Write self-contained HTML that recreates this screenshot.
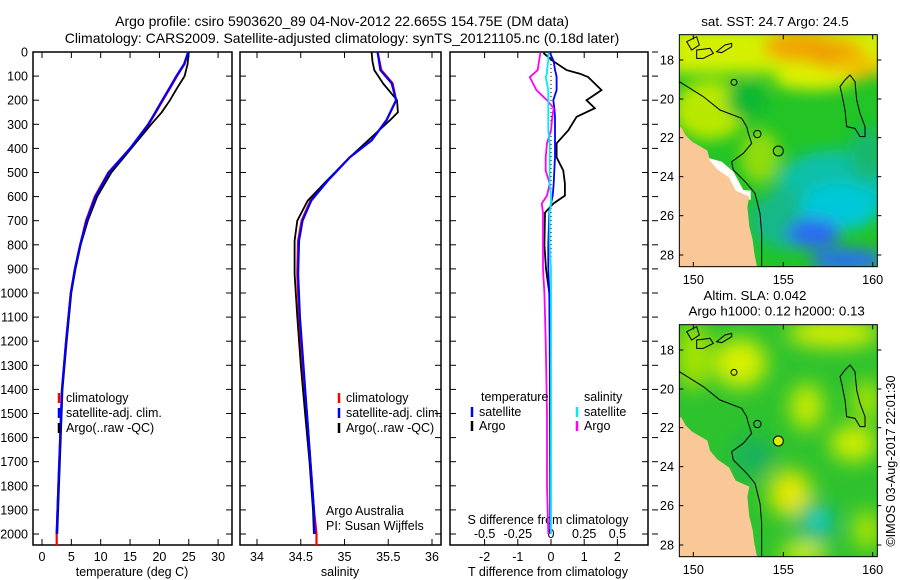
<!DOCTYPE html>
<html><head><meta charset="utf-8">
<style>
html,body{margin:0;padding:0;background:#fff;}
svg{display:block;font-family:"Liberation Sans",sans-serif;}
text{font-size:12.5px;fill:#000;}
</style></head>
<body>
<svg id="chart" width="900" height="580" viewBox="0 0 900 580" xmlns="http://www.w3.org/2000/svg">
<rect width="900" height="580" fill="#fff"/>
<text x="342" y="26" text-anchor="middle" style="font-size:14px">Argo profile: csiro 5903620_89 04-Nov-2012 22.665S 154.75E (DM data)</text>
<text x="342" y="43" text-anchor="middle" style="font-size:14px">Climatology: CARS2009. Satellite-adjusted climatology: synTS_20121105.nc (0.18d later)</text>
<g id="plots"></g>

<!-- Map 1: SST -->
<svg x="660" y="0" width="240" height="290" viewBox="0 0 720 870">
<defs>
<filter id="bl1" x="-50%" y="-50%" width="200%" height="200%"><feGaussianBlur stdDeviation="22"/></filter>
<filter id="bl2" x="-50%" y="-50%" width="200%" height="200%"><feGaussianBlur stdDeviation="30"/></filter>
<clipPath id="mc"><rect x="58" y="104" width="594" height="696"/></clipPath>
</defs>
<text x="345" y="78" text-anchor="middle" style="font-size:40px">sat. SST: 24.7 Argo: 24.5</text>
<g clip-path="url(#mc)">
<rect x="58" y="104" width="594" height="696" fill="#22c426"/>
<g filter="url(#bl1)">
<rect x="30" y="80" width="660" height="140" fill="#d4f000"/>
<ellipse cx="420" cy="140" rx="110" ry="45" fill="#f2a400"/>
<ellipse cx="520" cy="160" rx="90" ry="45" fill="#f0a000"/>
<ellipse cx="590" cy="200" rx="70" ry="40" fill="#f0c000"/>
<ellipse cx="460" cy="240" rx="120" ry="30" fill="#e0f000"/>
<ellipse cx="150" cy="330" rx="110" ry="90" fill="#b8e800"/>
<ellipse cx="300" cy="470" rx="60" ry="80" fill="#90dc10"/>
<ellipse cx="260" cy="300" rx="60" ry="60" fill="#10b830"/>
<ellipse cx="520" cy="560" rx="170" ry="110" fill="#10c0a8"/>
<ellipse cx="380" cy="660" rx="110" ry="90" fill="#14b888"/>
<ellipse cx="540" cy="620" rx="120" ry="70" fill="#00c8d8"/>
<ellipse cx="460" cy="700" rx="80" ry="45" fill="#2a6cf0"/>
<ellipse cx="560" cy="780" rx="110" ry="35" fill="#2a70f0"/>
<ellipse cx="620" cy="460" rx="50" ry="80" fill="#12b870"/>
</g>
<polygon fill="#fff" points="130,470 185,485 220,515 250,570 272,572 272,600 230,585 205,545 165,515 135,495"/>
<polygon fill="#f9c896" points="58,380 66,385 76,405 96,425 122,440 142,452 150,482 172,508 207,532 227,572 268,590 262,620 268,680 278,720 283,760 291,800 58,800"/>
<g fill="none" stroke="#000" stroke-width="3">
<polyline points="58,245 90,265 130,290 180,330 245,355 260,380 265,400 275,430 250,460 215,485 220,510 260,550 285,580 300,640 305,700 305,800"/>
<polygon points="555,240 570,225 585,245 590,300 600,340 615,380 615,410 600,410 585,385 560,380 555,330 545,280 540,260"/>
<circle cx="355" cy="453" r="15"/>
<circle cx="222" cy="247" r="9"/>
<circle cx="292" cy="402" r="11"/>
<polygon points="80,125 110,110 118,135 95,150"/>
<polygon points="110,150 150,145 160,160 130,175 110,175"/>
<polygon points="170,155 195,135 215,130 215,140 185,158"/>
</g>
</g>
<rect x="58" y="104" width="594" height="696" fill="none" stroke="#000" stroke-width="3"/>
<g stroke="#000" stroke-width="3">
<line x1="100" y1="104" x2="100" y2="118"/><line x1="370" y1="104" x2="370" y2="118"/><line x1="638" y1="104" x2="638" y2="118"/>
<line x1="100" y1="800" x2="100" y2="786"/><line x1="370" y1="800" x2="370" y2="786"/><line x1="638" y1="800" x2="638" y2="786"/>
<line x1="652" y1="180" x2="664" y2="180"/><line x1="652" y1="297" x2="664" y2="297"/><line x1="652" y1="413" x2="664" y2="413"/><line x1="652" y1="530" x2="664" y2="530"/><line x1="652" y1="647" x2="664" y2="647"/><line x1="652" y1="765" x2="664" y2="765"/>
<line x1="58" y1="180" x2="70" y2="180"/><line x1="58" y1="297" x2="70" y2="297"/><line x1="58" y1="413" x2="70" y2="413"/><line x1="58" y1="530" x2="70" y2="530"/><line x1="58" y1="647" x2="70" y2="647"/><line x1="58" y1="765" x2="70" y2="765"/>
</g>
<g style="font-size:38px" text-anchor="end">
<text x="42" y="193" style="font-size:38px">-18</text><text x="42" y="310" style="font-size:38px">-20</text><text x="42" y="426" style="font-size:38px">-22</text><text x="42" y="543" style="font-size:38px">-24</text><text x="42" y="660" style="font-size:38px">-26</text><text x="42" y="778" style="font-size:38px">-28</text>
</g>
<text x="100" y="852" text-anchor="middle" style="font-size:38px">150</text><text x="370" y="852" text-anchor="middle" style="font-size:38px">155</text><text x="638" y="852" text-anchor="middle" style="font-size:38px">160</text>
</svg>

<!-- Map 2: SLA -->
<svg x="660" y="290" width="240" height="290" viewBox="0 0 720 870">
<defs><clipPath id="mc2"><rect x="58" y="104" width="594" height="696"/></clipPath></defs>
<text x="285" y="30" text-anchor="middle" style="font-size:40px">Altim. SLA: 0.042</text>
<text x="350" y="76" text-anchor="middle" style="font-size:40px">Argo h1000: 0.12 h2000: 0.13</text>
<g clip-path="url(#mc2)">
<rect x="58" y="104" width="594" height="696" fill="#2ec22e"/>
<g filter="url(#bl2)">
<ellipse cx="240" cy="220" rx="80" ry="75" fill="#d8f000"/>
<ellipse cx="100" cy="200" rx="50" ry="100" fill="#a8e400"/>
<ellipse cx="520" cy="130" rx="140" ry="40" fill="#e0f000"/>
<ellipse cx="440" cy="350" rx="50" ry="70" fill="#c8ec00"/>
<ellipse cx="580" cy="460" rx="70" ry="55" fill="#d0ee00"/>
<ellipse cx="620" cy="330" rx="40" ry="60" fill="#b0e600"/>
<ellipse cx="390" cy="610" rx="65" ry="70" fill="#e4e800"/>
<ellipse cx="430" cy="790" rx="70" ry="35" fill="#d4ee00"/>
<ellipse cx="280" cy="500" rx="60" ry="60" fill="#18b060"/>
<ellipse cx="470" cy="700" rx="60" ry="60" fill="#10b890"/>
<ellipse cx="620" cy="720" rx="40" ry="60" fill="#b0e600"/>
</g>
<circle cx="475" cy="690" r="22" fill="#20d8d0" filter="url(#bl1)"/>
<polygon fill="#f9c896" points="58,380 66,385 76,405 96,425 122,440 142,452 150,482 172,508 207,532 227,572 268,590 262,620 268,680 278,720 283,760 291,800 58,800"/>
<g fill="none" stroke="#000" stroke-width="3">
<polyline points="58,245 90,265 130,290 180,330 245,355 260,380 265,400 275,430 250,460 215,485 220,510 260,550 285,580 300,640 305,700 305,800"/>
<polygon points="555,240 570,225 585,245 590,300 600,340 615,380 615,410 600,410 585,385 560,380 555,330 545,280 540,260"/>
<circle cx="355" cy="453" r="15" fill="#d8f000"/>
<circle cx="222" cy="247" r="9"/>
<circle cx="292" cy="402" r="11"/>
<polygon points="80,125 110,110 118,135 95,150"/>
<polygon points="110,150 150,145 160,160 130,175 110,175"/>
<polygon points="170,155 195,135 215,130 215,140 185,158"/>
</g>
</g>
<rect x="58" y="104" width="594" height="696" fill="none" stroke="#000" stroke-width="3"/>
<g stroke="#000" stroke-width="3">
<line x1="100" y1="104" x2="100" y2="118"/><line x1="370" y1="104" x2="370" y2="118"/><line x1="638" y1="104" x2="638" y2="118"/>
<line x1="100" y1="800" x2="100" y2="786"/><line x1="370" y1="800" x2="370" y2="786"/><line x1="638" y1="800" x2="638" y2="786"/>
<line x1="652" y1="180" x2="664" y2="180"/><line x1="652" y1="297" x2="664" y2="297"/><line x1="652" y1="413" x2="664" y2="413"/><line x1="652" y1="530" x2="664" y2="530"/><line x1="652" y1="647" x2="664" y2="647"/><line x1="652" y1="765" x2="664" y2="765"/>
<line x1="58" y1="180" x2="70" y2="180"/><line x1="58" y1="297" x2="70" y2="297"/><line x1="58" y1="413" x2="70" y2="413"/><line x1="58" y1="530" x2="70" y2="530"/><line x1="58" y1="647" x2="70" y2="647"/><line x1="58" y1="765" x2="70" y2="765"/>
</g>
<text x="42" y="193" text-anchor="end" style="font-size:38px">-18</text><text x="42" y="310" text-anchor="end" style="font-size:38px">-20</text><text x="42" y="426" text-anchor="end" style="font-size:38px">-22</text><text x="42" y="543" text-anchor="end" style="font-size:38px">-24</text><text x="42" y="660" text-anchor="end" style="font-size:38px">-26</text><text x="42" y="778" text-anchor="end" style="font-size:38px">-28</text>
<text x="100" y="852" text-anchor="middle" style="font-size:38px">150</text><text x="370" y="852" text-anchor="middle" style="font-size:38px">155</text><text x="638" y="852" text-anchor="middle" style="font-size:38px">160</text>
<text transform="translate(705,770) rotate(-90)" style="font-size:38px">©IMOS 03-Aug-2017 22:01:30</text>
</svg>
</svg>

<script>
// ---- data ----
const tDepth = [0,50,100,150,200,250,300,400,500,600,700,800,900,1000,1200,1400,1600,1800,2000,2050];
const tClim  = [24.9,24.3,23.0,21.8,20.6,19.4,18.2,15.0,11.3,9.0,7.5,6.5,5.6,4.9,4.1,3.4,3.1,2.8,2.5,2.5];
const tSat   = [24.9,24.2,22.9,21.7,20.5,19.3,18.1,15.0,11.4,9.1,7.6,6.5,5.6,4.9,4.1,3.4,3.1,2.8,2.5,2.5];
const tArgoDepth = [0,50,100,150,200,250,300,400,500,600,700,800,900,1000,1200,1400,1600,1800,2000];
const tArgo  = [25.0,24.8,24.3,23.0,21.8,20.4,18.6,15.2,11.8,9.4,7.8,6.6,5.7,5.0,4.2,3.5,3.2,2.9,2.6];

const sDepth = [0,5,75,130,200,283,367,437,533,617,700,783,922,1100,1300,1500,1700,1900,2000,2050];
const sClim  = [35.38,35.38,35.42,35.55,35.59,35.48,35.31,35.06,34.81,34.61,34.51,34.47,34.46,34.48,34.52,34.57,34.61,34.65,34.68,34.68];
const sSat   = [35.38,35.38,35.41,35.54,35.59,35.48,35.31,35.06,34.81,34.62,34.52,34.48,34.47,34.49,34.53,34.57,34.61,34.65,34.66,34.66];
const sArgoDepth = [0,40,75,130,200,250,283,367,437,533,617,700,783,922,1100,1300,1500,1700,1900,2000];
const sArgo  = [35.31,35.32,35.34,35.44,35.60,35.61,35.52,35.27,35.06,34.80,34.58,34.46,34.43,34.43,34.46,34.50,34.55,34.60,34.64,34.65];

const dDepth = [4,38,75,90,104,158,200,233,269,325,379,437,492,546,596,629,667,800,900,1000,1200,1500,1800,2000];
const dTArgo = [-0.23,0.07,0.47,0.87,1.12,1.52,1.07,1.32,0.77,0.52,0.17,0.17,0.37,0.42,0.42,0.07,-0.18,-0.2,-0.15,-0.05,-0.03,-0.02,-0.02,-0.02];
const dTSat  = [-0.03,0.08,0.12,0.15,0.17,0.17,0.07,0.1,0.12,0.12,0.12,0.12,0.1,0.08,0.05,0.0,-0.05,-0.08,-0.08,-0.05,-0.04,-0.03,-0.02,-0.02];
const dSArgo = [-0.08,-0.09,-0.1,-0.13,-0.16,-0.11,-0.03,0.02,0.01,0.0,-0.03,-0.04,-0.04,-0.01,-0.03,-0.07,-0.06,-0.06,-0.06,-0.05,-0.04,-0.03,-0.03,-0.02];
const dSSat  = [-0.02,-0.02,-0.03,-0.03,-0.04,-0.02,-0.02,-0.02,-0.02,-0.02,-0.01,-0.01,-0.01,-0.01,0.0,0.0,-0.01,-0.01,0.0,0.0,0.0,0.0,0.0,0.0];

const depthTicks = [0,100,200,300,400,500,600,700,800,900,1000,1100,1200,1300,1400,1500,1600,1700,1800,1900,2000];
const tTicks = [0,5,10,15,20,25,30];
const sTicks = [34,34.5,35,35.5,36];
const sTickLabels = ["34","34.5","35","35.5","36"];
const dTTicks = [-2,-1,0,1,2];
const dSTicks = [-0.5,-0.25,0,0.25,0.5];
const dSTickLabels = ["-0.5","-0.25","0","0.25","0.5"];

// ---- axes ----
const NS = "http://www.w3.org/2000/svg";
const root = document.getElementById('plots');
const top0 = 52, bot = 545;
const yD = d => 52 + d * 0.241;
const xT = v => 42 + v * 5.87;
const xS = v => 257 + (v - 34) * 87.5;
const xDT = v => 551 + v * 33.2;
const xDS = v => 551 + v * 132.8;
const panels = [[33,232],[240,441],[450,648]];

function el(tag, attrs, parent) {
  const e = document.createElementNS(NS, tag);
  for (const k in attrs) e.setAttribute(k, attrs[k]);
  (parent || root).appendChild(e);
  return e;
}
function txt(x, y, s, anchor, parent) {
  const t = el('text', {x: x, y: y, 'text-anchor': anchor || 'start'}, parent);
  t.textContent = s;
  return t;
}
function line(depths, vals, xf, color, w, name, dash) {
  const pts = depths.map((d, i) => xf(vals[i]).toFixed(1) + ',' + yD(d).toFixed(1)).join(' ');
  const p = el('polyline', {points: pts, fill: 'none', stroke: color, 'stroke-width': w});
  if (dash) p.setAttribute('stroke-dasharray', dash);
  
  
  return p;
}

// frames + y ticks
panels.forEach((p, i) => {
  const r = el('rect', {x: p[0], y: top0, width: p[1] - p[0], height: bot - top0, fill: 'none', stroke: '#000', 'stroke-width': 1.5});
  
  
  depthTicks.forEach(d => {
    el('line', {x1: p[0], x2: p[0] + 6, y1: yD(d), y2: yD(d), stroke: '#000'});
    el('line', {x1: p[1], x2: p[1] - 6, y1: yD(d), y2: yD(d), stroke: '#000'});
  });
});
depthTicks.forEach(d => {
  const t = txt(28, yD(d) + 4.5, String(d), 'end');
  
  
  el('line', {x1: 652, x2: 658, y1: yD(d), y2: yD(d), stroke: '#000'});
});
function xticks(ticks, labels, xf, p, ly) {
  ticks.forEach((v, i) => {
    const x = xf(v);
    el('line', {x1: x, x2: x, y1: bot, y2: bot - 6, stroke: '#000'});
    el('line', {x1: x, x2: x, y1: top0, y2: top0 + 6, stroke: '#000'});
    const t = txt(x, ly, labels[i], 'middle');
    
    
  });
}
xticks(tTicks, tTicks.map(String), xT, panels[0], 561);
xticks(sTicks, sTickLabels, xS, panels[1], 561);
xticks(dTTicks, dTTicks.map(String), xDT, panels[2], 561);
dSTicks.forEach((v, i) => {
  const t = txt(xDS(v), 538, dSTickLabels[i], 'middle');
  
  
});

// axis titles
let a;
a = txt(132, 576, 'temperature (deg C)', 'middle');


a = txt(340, 576, 'salinity', 'middle');


a = txt(548, 576, 'T difference from climatology', 'middle');


a = txt(548, 524, 'S difference from climatology', 'middle');


a = txt(326, 515, 'Argo Australia');


a = txt(326, 530, 'PI: Susan Wijffels');



// series
line(tDepth, tClim, xT, '#f00', 2.2, 'temp-climatology-line');
line(tArgoDepth, tArgo, xT, '#000', 1.8, 'temp-argo-line');
line(tDepth.slice(0, -1), tSat.slice(0, -1), xT, '#00f', 2.2, 'temp-satellite-line');
line(sDepth, sClim, xS, '#f00', 2.2, 's-climatology-line');
line(sArgoDepth, sArgo, xS, '#000', 1.8, 's-argo-line');
line(sDepth.slice(0, -1), sSat.slice(0, -1), xS, '#00f', 2.2, 's-satellite-line');
const zeroLine = el('line', {x1: xDT(0), x2: xDT(0), y1: yD(0), y2: yD(2000), stroke: '#000', 'stroke-dasharray': '1,3'});


line(dDepth, dTArgo, xDT, '#000', 1.8, 'tdiff-argo-line');
line(dDepth, dTSat, xDT, '#00f', 1.8, 'tdiff-satellite-line');
line(dDepth, dSArgo, xDS, '#f0f', 1.8, 'sdiff-argo-line');
line(dDepth, dSSat, xDS, '#0ee', 1.8, 'sdiff-satellite-line');

// legends
function legend(x, y, color, label) {
  const b = el('line', {x1: x, x2: x, y1: y - 9, y2: y + 1, stroke: color, 'stroke-width': 2.5});
  
  
  const t = txt(x + 7, y, label);
  
  
}
[[33,59],[240,339]].forEach(p => {
  legend(p[1], 402, '#f00', 'climatology');
  legend(p[1], 417, '#00f', 'satellite-adj. clim.');
  legend(p[1], 432, '#000', 'Argo(..raw -QC)');
});
a = txt(481, 401, 'temperature');


a = txt(584, 401, 'salinity');


legend(472, 416, '#00f', 'satellite');
legend(472, 430, '#000', 'Argo');
legend(577, 416, '#0ee', 'satellite');
legend(577, 430, '#f0f', 'Argo');
</script>
</body></html>
